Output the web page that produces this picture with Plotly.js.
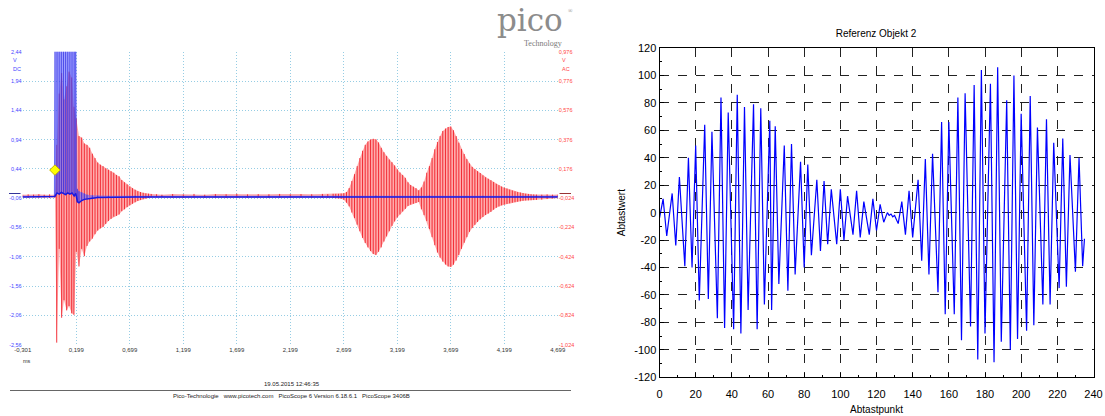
<!DOCTYPE html>
<html>
<head>
<meta charset="utf-8">
<script src="https://cdn.plot.ly/plotly-3.0.1.min.js"></script>
<style>
html,body{margin:0;padding:0;background:#fff;}
#chart{width:1105px;height:416px;}
</style>
</head>
<body>
<div id="chart"></div>
<script>
// ---------------- LEFT PANEL (PicoScope capture) ----------------
// time axis (ms) ticks
const scopeXTicks = [-0.301, 0.199, 0.699, 1.199, 1.699, 2.199, 2.699, 3.199, 3.699, 4.199, 4.699];
const scopeXLabels = ["-0,301", "0,199", "0,699", "1,199", "1,699", "2,199", "2,699", "3,199", "3,699", "4,199", "4,699"];
// channel A (DC, V) ticks - left
const chATicks = [2.44, 1.94, 1.44, 0.94, 0.44, -0.06, -0.56, -1.06, -1.56, -2.06, -2.56];
const chALabels = ["2,44", "1,94", "1,44", "0,94", "0,44", "-0,06", "-0,56", "-1,06", "-1,56", "-2,06", "-2,56"];
// channel B (AC, V) ticks - right
const chBTicks = [0.976, 0.776, 0.576, 0.376, 0.176, -0.024, -0.224, -0.424, -0.624, -0.824, -1.024];
const chBLabels = ["0,976", "0,776", "0,576", "0,376", "0,176", "-0,024", "-0,224", "-0,424", "-0,624", "-0,824", "-1,024"];

// Channel B (red): time of each oscillation cycle and its max / min (V)
const redT = [
  -0.301, -0.25, -0.2, -0.15, -0.1, -0.05, 0.0,
  0.017, 0.04, 0.063, 0.085, 0.11, 0.132, 0.157, 0.178,
  0.2, 0.225, 0.25, 0.275, 0.3, 0.325, 0.35, 0.375, 0.4, 0.425, 0.45, 0.475, 0.5, 0.525, 0.55, 0.575,
  0.6, 0.625, 0.65, 0.675, 0.7, 0.725, 0.75, 0.775, 0.8, 0.825, 0.85, 0.875, 0.9, 0.95, 1.0,
  1.1, 1.2, 1.3, 1.4, 1.5, 1.6, 1.7, 1.8, 1.9, 2.0, 2.1, 2.2, 2.3, 2.4, 2.5, 2.55, 2.6, 2.625,
  2.65, 2.675, 2.7, 2.725, 2.75, 2.775, 2.8, 2.825, 2.85, 2.875, 2.9, 2.925, 2.95, 2.975, 3.0, 3.025,
  3.05, 3.075, 3.1, 3.125, 3.15, 3.175, 3.2, 3.225, 3.25, 3.275, 3.3, 3.325, 3.35, 3.375, 3.4,
  3.425, 3.45, 3.475, 3.5, 3.525, 3.55, 3.575, 3.6, 3.625, 3.65, 3.675, 3.7, 3.725, 3.75, 3.775, 3.8,
  3.825, 3.85, 3.875, 3.9, 3.925, 3.95, 3.975, 4.0, 4.025, 4.05, 4.075, 4.1, 4.125, 4.15, 4.175, 4.2,
  4.225, 4.25, 4.275, 4.3, 4.325, 4.35, 4.375, 4.4, 4.425, 4.45, 4.475, 4.5, 4.55, 4.6, 4.65, 4.699
];
const redHi = [
  0.0, 0.002, 0.0, 0.003, 0.0, 0.002, 0.0,
  0.34, 0.69, 0.83, 0.65, 0.74, 0.84, 0.80, 0.60,
  0.52, 0.40, 0.39, 0.35, 0.34, 0.32, 0.28, 0.25, 0.22, 0.205, 0.195, 0.18, 0.17, 0.16, 0.15, 0.135,
  0.125, 0.10, 0.085, 0.07, 0.055, 0.045, 0.034, 0.024, 0.018, 0.013, 0.009, 0.007, 0.005, 0.003, 0.0,
  0.004, 0.002, 0.005, 0.0, 0.004, 0.003, 0.006, 0.002, 0.004, 0.003, 0.005, 0.002, 0.004, 0.003, 0.005, 0.004, 0.006, 0.006,
  0.006, 0.008, 0.01, 0.018, 0.045, 0.094, 0.14, 0.195, 0.25, 0.30, 0.34, 0.363, 0.377, 0.381, 0.378, 0.357,
  0.32, 0.29, 0.265, 0.24, 0.222, 0.2, 0.172, 0.152, 0.135, 0.115, 0.085, 0.066, 0.055, 0.045, 0.03,
  0.05, 0.09, 0.15, 0.195, 0.25, 0.31, 0.36, 0.40, 0.435, 0.452, 0.462, 0.465, 0.44, 0.40, 0.355, 0.312,
  0.278, 0.243, 0.214, 0.19, 0.175, 0.161, 0.148, 0.132, 0.119, 0.109, 0.099, 0.087, 0.074, 0.065, 0.056, 0.048,
  0.042, 0.035, 0.029, 0.023, 0.018, 0.015, 0.011, 0.007, 0.005, 0.003, 0.002, 0.001, 0.0, 0.002, 0.0, 0.001
];
const redLo = [
  -0.02, -0.022, -0.019, -0.021, -0.02, -0.022, -0.02,
  -1.01, -0.37, -0.84, -0.72, -0.79, -0.76, -0.81, -0.82,
  -0.39, -0.49, -0.37, -0.42, -0.35, -0.32, -0.30, -0.27, -0.245, -0.23, -0.22, -0.20, -0.18, -0.165, -0.15, -0.145,
  -0.135, -0.113, -0.10, -0.085, -0.072, -0.062, -0.052, -0.043, -0.036, -0.031, -0.026, -0.022, -0.018, -0.016, -0.015,
  -0.02, -0.022, -0.019, -0.021, -0.02, -0.023, -0.02, -0.021, -0.019, -0.022, -0.02, -0.021, -0.02, -0.022, -0.02, -0.021, -0.022, -0.024,
  -0.025, -0.028, -0.035, -0.055, -0.08, -0.122, -0.16, -0.205, -0.25, -0.295, -0.33, -0.36, -0.385, -0.405, -0.412, -0.39,
  -0.36, -0.32, -0.285, -0.25, -0.213, -0.183, -0.155, -0.135, -0.115, -0.097, -0.077, -0.068, -0.062, -0.057, -0.05,
  -0.10, -0.14, -0.18, -0.235, -0.29, -0.345, -0.395, -0.43, -0.457, -0.477, -0.49, -0.493, -0.478, -0.45, -0.412, -0.37,
  -0.328, -0.29, -0.254, -0.228, -0.206, -0.186, -0.168, -0.152, -0.139, -0.129, -0.118, -0.103, -0.09, -0.08, -0.073, -0.068,
  -0.063, -0.059, -0.055, -0.051, -0.048, -0.045, -0.042, -0.04, -0.039, -0.038, -0.037, -0.036, -0.034, -0.03, -0.026, -0.024
];

// Channel A (blue): time of each cycle and its max / min (V); saturates above 2.44 V during the transmit burst
const blueT = [-0.301, -0.2, -0.1, -0.01, 0.0, 0.02, 0.04, 0.06, 0.08, 0.1, 0.12, 0.14, 0.16, 0.18, 0.195,
  0.21, 0.225, 0.25, 0.275, 0.3, 0.35, 0.4, 0.5, 0.75, 1.0, 1.5, 2.0, 2.5, 3.0, 3.5, 4.0, 4.5, 4.699];
const blueHi = [-0.02, -0.02, -0.02, -0.02, 3.2, 3.2, 3.2, 3.2, 3.2, 3.2, 3.2, 3.2, 3.2, 3.2, 3.2,
  0.1, 0.06, 0.04, 0.02, 0.0, -0.01, -0.015, -0.02, -0.02, -0.02, -0.02, -0.02, -0.02, -0.015, -0.015, -0.02, -0.02, -0.02];
const blueLo = [-0.04, -0.04, -0.04, -0.04, -0.03, 0.03, 0.01, 0.04, 0.02, 0.0, 0.03, 0.01, 0.03, -0.02, 0.02,
  -0.12, -0.14, -0.1, -0.08, -0.07, -0.06, -0.05, -0.045, -0.04, -0.04, -0.04, -0.04, -0.04, -0.045, -0.045, -0.04, -0.04, -0.04];

// trigger marker
const trigT = [0.0];
const trigV = [0.42];

// ---------------- RIGHT PANEL (Referenz Objekt 2) ----------------
const refX = [0,2,4,7,9,11,14,16,18,20,22,25,27,29,32,34,36,38,41,43,45,47,49,52,54,56,58,61,62,64,
  66,69,71,73,75,78,80,82,84,87,89,91,93,95,98,100,102,104,107,109,111,113,116,118,120,122,124,126,127,128,
  129,130,132,134,136,138,140,143,145,147,149,151,154,156,158,160,163,165,167,169,172,174,176,178,180,183,185,187,189,192,
  194,196,198,200,203,205,207,209,212,214,216,218,221,223,225,227,230,232,234,235];
const refY = [-4,10,-17,14,-24,26,-39,40,-40,49,-64,64,-63,59,-77,84,-84,73,-85,86,-88,77,-71,79,-85,76,-67,67,-71,63,
  -52,49,-57,50,-45,37,-40,35,-31,24,-28,23,-23,17,-23,17,-20,12,-16,16,-18,8,-16,10,-13,6,-7,0,-2,-1,
  -3,-2,-8,8,-16,16,-18,24,-35,39,-45,43,-58,66,-74,66,-74,84,-93,87,-83,93,-107,104,-88,94,-109,106,-94,82,
  -100,100,-92,72,-86,85,-82,62,-67,68,-67,51,-55,54,-54,42,-43,40,-39,-19];
const refYTicks = [120, 100, 80, 60, 40, 20, 0, -20, -40, -60, -80, -100, -120];
const refYLabels = ["120", "100", "80", "60", "40", "20", "0", "-20", "-40", "-60", "-80", "-100", "-120"];
const refXTicks = [0, 20, 40, 60, 80, 100, 120, 140, 160, 180, 200, 220, 240];

// ---------------- helpers ----------------
const W = 1105, H = 416;
const fx = p => p / W;
const fy = p => 1 - p / H;

function band(t, hi, lo) {
  return { x: t.concat(t.slice().reverse()), y: hi.concat(lo.slice().reverse()) };
}
function stripes(t, hi, lo) {
  const x = [], y = [];
  for (let i = 0; i < t.length; i++) { x.push(t[i], t[i], null); y.push(lo[i], hi[i], null); }
  return { x, y };
}

const rb = band(redT, redHi, redLo);
const rs = stripes(redT, redHi, redLo);
const bb = band(blueT, blueHi, blueLo);
const bs = stripes(blueT, blueHi, blueLo);

// red (channel B) on main y axis (labels on the right); blue (channel A) on the overlay axis (labels left),
// so that the blue trace is drawn on top as in the scope picture
const traces = [
  { x: rb.x, y: rb.y, xaxis: 'x', yaxis: 'y', mode: 'lines', fill: 'toself',
    fillcolor: 'rgb(255,172,172)', line: { width: 0 }, hoverinfo: 'skip', showlegend: false },
  { x: rs.x, y: rs.y, xaxis: 'x', yaxis: 'y', mode: 'lines', connectgaps: false,
    line: { color: 'rgb(240,30,40)', width: 0.9 }, hoverinfo: 'skip', showlegend: false },
  { x: bb.x, y: bb.y, xaxis: 'x', yaxis: 'y2', mode: 'lines', fill: 'toself',
    fillcolor: 'rgba(100,100,255,0.6)', line: { width: 0 }, hoverinfo: 'skip', showlegend: false },
  { x: bs.x, y: bs.y, xaxis: 'x', yaxis: 'y2', mode: 'lines', connectgaps: false,
    line: { color: 'rgba(40,40,225,0.7)', width: 1 }, hoverinfo: 'skip', showlegend: false },
  { x: blueT, y: blueLo, xaxis: 'x', yaxis: 'y2', mode: 'lines',
    line: { color: 'rgb(25,25,225)', width: 1.5 }, hoverinfo: 'skip', showlegend: false },
  { x: trigT, y: trigV, xaxis: 'x', yaxis: 'y2', mode: 'markers',
    marker: { symbol: 'diamond', size: 8, color: '#ffff00', line: { color: '#c8b400', width: 1 } },
    hoverinfo: 'skip', showlegend: false, cliponaxis: false },
  { x: refX, y: refY, xaxis: 'x3', yaxis: 'y3', mode: 'lines',
    line: { color: 'rgb(0,0,255)', width: 1.2 }, showlegend: false }
];

const scopeGrid = 'rgb(150,205,228)';
const tinyFont = 'Liberation Sans, Arial, sans-serif';
const armFont = 'Liberation Sans, Arial, sans-serif';

const layout = {
  width: W, height: H,
  margin: { l: 0, r: 0, t: 0, b: 0 },
  paper_bgcolor: '#ffffff', plot_bgcolor: 'rgba(0,0,0,0)',
  showlegend: false,
  title: { text: 'Referenz Objekt 2', x: fx(876), xanchor: 'center', xref: 'paper',
    y: fy(33), yanchor: 'middle', yref: 'paper',
    font: { family: armFont, size: 10, color: '#000' } },
  xaxis: {
    domain: [fx(22.7), fx(557.7)], range: [-0.301, 4.699], anchor: 'y',
    tickvals: scopeXTicks, ticktext: scopeXLabels, ticks: '',
    showgrid: true, gridcolor: scopeGrid, griddash: '1px,2px', gridwidth: 1,
    zeroline: false, showline: false,
    tickfont: { family: tinyFont, size: 6, color: '#333' }
  },
  yaxis: {
    domain: [fy(344.7), fy(51.7)], range: [-1.024, 0.976], anchor: 'x', side: 'right',
    tickvals: chBTicks, ticktext: chBLabels, ticks: '',
    showgrid: true, gridcolor: scopeGrid, griddash: '1px,2px', gridwidth: 1,
    zeroline: false, showline: false,
    tickfont: { family: tinyFont, size: 5.5, color: 'rgb(255,70,70)' }
  },
  yaxis2: {
    overlaying: 'y', side: 'left', anchor: 'x', range: [-2.56, 2.44],
    tickvals: chATicks, ticktext: chALabels, ticks: '',
    showgrid: false, zeroline: false, showline: false,
    tickfont: { family: tinyFont, size: 5.5, color: 'rgb(70,70,255)' }
  },
  xaxis3: {
    domain: [fx(659.5), fx(1093.5)], range: [0, 240], anchor: 'y3',
    tickvals: refXTicks, ticks: 'inside', ticklen: 4, tickcolor: '#000', ticklabelstandoff: 6,
    minor: { ticks: 'inside', ticklen: 2, dtick: 10, tick0: 0, tickcolor: '#000', showgrid: false },
    showgrid: true, gridcolor: '#222', griddash: 'dash', gridwidth: 1,
    showline: true, linecolor: '#000', linewidth: 1, mirror: true, zeroline: false,
    tickfont: { family: armFont, size: 11, color: '#000' },
    title: { text: 'Abtastpunkt', font: { family: armFont, size: 10, color: '#000' }, standoff: 7 }
  },
  yaxis3: {
    domain: [fy(377.3), fy(48)], range: [-120, 120], anchor: 'x3',
    tickvals: refYTicks, ticktext: refYLabels, ticks: 'inside', ticklen: 4, tickcolor: '#000',
    minor: { ticks: 'inside', ticklen: 2, dtick: 10, tick0: 0, tickcolor: '#000', showgrid: false },
    showgrid: true, gridcolor: '#222', griddash: 'dash', gridwidth: 1,
    showline: true, linecolor: '#000', linewidth: 1, mirror: true, zeroline: false,
    tickfont: { family: armFont, size: 11, color: '#000' },
    title: { text: 'Abtastwert', font: { family: armFont, size: 10, color: '#000' }, standoff: 6 }
  },
  shapes: [
    { type: 'line', xref: 'paper', yref: 'paper', x0: fx(10), x1: fx(571), y0: fy(390.5), y1: fy(390.5),
      line: { color: '#666', width: 1 } },
    { type: 'line', xref: 'paper', yref: 'paper', x0: fx(9), x1: fx(20.5), y0: fy(193.5), y1: fy(193.5),
      line: { color: '#333399', width: 1 } },
    { type: 'line', xref: 'paper', yref: 'paper', x0: fx(559.5), x1: fx(571), y0: fy(193.5), y1: fy(193.5),
      line: { color: '#993333', width: 1 } }
  ],
  annotations: [
    { text: 'V', xref: 'paper', yref: 'paper', x: fx(15), y: fy(60), xanchor: 'center', yanchor: 'middle',
      showarrow: false, font: { family: tinyFont, size: 5.5, color: 'rgb(70,70,255)' } },
    { text: 'DC', xref: 'paper', yref: 'paper', x: fx(16.5), y: fy(68.5), xanchor: 'center', yanchor: 'middle',
      showarrow: false, font: { family: tinyFont, size: 5.5, color: 'rgb(70,70,255)' } },
    { text: 'V', xref: 'paper', yref: 'paper', x: fx(559.5), y: fy(60), xanchor: 'left', yanchor: 'middle',
      showarrow: false, font: { family: tinyFont, size: 5.5, color: 'rgb(255,70,70)' } },
    { text: 'AC', xref: 'paper', yref: 'paper', x: fx(559.5), y: fy(68.5), xanchor: 'left', yanchor: 'middle',
      showarrow: false, font: { family: tinyFont, size: 5.5, color: 'rgb(255,70,70)' } },
    { text: 'ms', xref: 'paper', yref: 'paper', x: fx(26.5), y: fy(361), xanchor: 'center', yanchor: 'middle',
      showarrow: false, font: { family: tinyFont, size: 5.5, color: '#333' } },
    { text: '19.05.2015 12:46:35', xref: 'paper', yref: 'paper', x: fx(292), y: fy(384), xanchor: 'center', yanchor: 'middle',
      showarrow: false, font: { family: tinyFont, size: 6, color: '#222' } },
    { text: 'Pico-Technologie   www.picotech.com   PicoScope 6 Version 6.18.6.1   PicoScope 3406B',
      xref: 'paper', yref: 'paper', x: fx(291), y: fy(396), xanchor: 'center', yanchor: 'middle',
      showarrow: false, font: { family: tinyFont, size: 6, color: '#222' } },
    { text: 'pico', xref: 'paper', yref: 'paper', x: fx(530), y: fy(19.5), xanchor: 'center', yanchor: 'middle',
      showarrow: false, font: { family: 'DejaVu Serif, Liberation Serif, serif', size: 31, color: '#8c8c8c' } },
    { text: '®', xref: 'paper', yref: 'paper', x: fx(570), y: fy(11), xanchor: 'center', yanchor: 'middle',
      showarrow: false, font: { family: 'Liberation Serif, serif', size: 6, color: '#888' } },
    { text: 'Technology', xref: 'paper', yref: 'paper', x: fx(543), y: fy(43.5), xanchor: 'center', yanchor: 'middle',
      showarrow: false, font: { family: 'Liberation Serif, DejaVu Serif, serif', size: 8, color: '#7a7a7a' } }
  ]
};

Plotly.newPlot('chart', traces, layout, { displayModeBar: false, staticPlot: true });
</script>
</body>
</html>
